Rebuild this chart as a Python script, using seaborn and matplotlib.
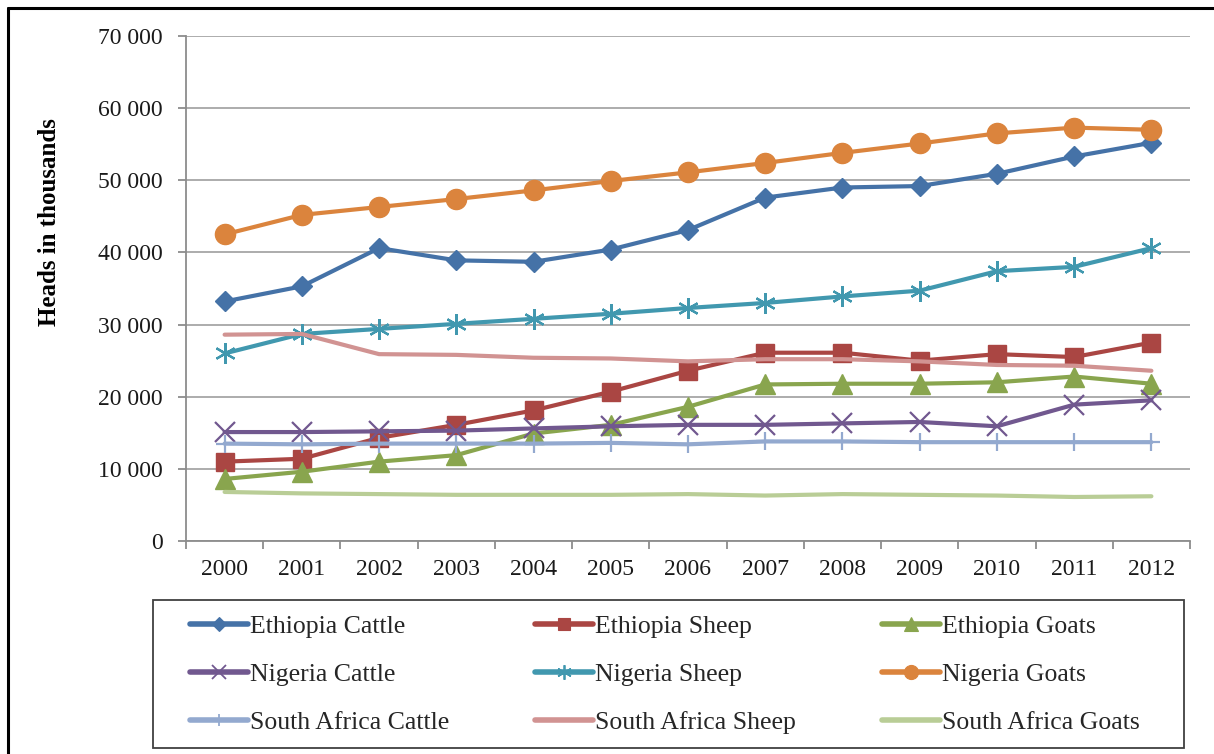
import matplotlib
matplotlib.use("Agg")
import matplotlib.pyplot as plt
import numpy as np
import pandas as pd
import seaborn as sns
from matplotlib.lines import Line2D
from matplotlib.patches import Rectangle
from matplotlib.ticker import FuncFormatter, FixedLocator

years = ["2000", "2001", "2002", "2003", "2004", "2005", "2006",
         "2007", "2008", "2009", "2010", "2011", "2012"]

ethiopia_cattle = [33200, 35300, 40600, 38900, 38700, 40400, 43100,
                   47600, 49000, 49200, 50900, 53300, 55200]
ethiopia_sheep = [11000, 11400, 14300, 16100, 18100, 20700, 23600,
                  26100, 26100, 25000, 25900, 25500, 27500]
ethiopia_goats = [8600, 9600, 11000, 11900, 14900, 16100, 18600,
                  21700, 21800, 21800, 22000, 22800, 21800]
nigeria_cattle = [15100, 15100, 15200, 15300, 15600, 15900, 16100,
                  16100, 16300, 16500, 15900, 18900, 19500]
nigeria_sheep = [26000, 28700, 29400, 30100, 30800, 31500, 32300,
                 33000, 33900, 34700, 37400, 38000, 40600]
nigeria_goats = [42500, 45200, 46300, 47400, 48600, 49900, 51100,
                 52400, 53800, 55100, 56500, 57300, 57000]
sa_cattle = [13500, 13400, 13500, 13500, 13500, 13600, 13400,
             13800, 13800, 13700, 13700, 13700, 13700]
sa_sheep = [28600, 28700, 25900, 25800, 25400, 25300, 24900,
            25200, 25200, 24900, 24400, 24300, 23600]
sa_goats = [6800, 6600, 6500, 6400, 6400, 6400, 6500,
            6300, 6500, 6400, 6300, 6100, 6200]

series_names = ["Ethiopia Cattle", "Ethiopia Sheep", "Ethiopia Goats",
                "Nigeria Cattle", "Nigeria Sheep", "Nigeria Goats",
                "South Africa Cattle", "South Africa Sheep", "South Africa Goats"]
series_values = [ethiopia_cattle, ethiopia_sheep, ethiopia_goats,
                 nigeria_cattle, nigeria_sheep, nigeria_goats,
                 sa_cattle, sa_sheep, sa_goats]

colors = ["#4572A7", "#AA4643", "#89A54E", "#71588F", "#4198AF",
          "#DB843D", "#93A9CF", "#D19392", "#B9CD96"]
markers = ["D", "s", "^", "x", (6, 2, 0), "o", "+", None, None]
msizes = [10, 13, 14, 14, 15, 14.5, 13, 0, 0]
mews = [1, 1, 1, 1.6, 1.6, 1, 1.6, 1, 1]

sns.set_theme(style="white")
plt.rcParams["font.family"] = ["Liberation Serif", "DejaVu Serif"]

W, H = 1214, 754
fig = plt.figure(figsize=(W / 100, H / 100), dpi=100)
ax = fig.add_axes([186 / W, (H - 541) / H, 1004 / W, 505 / H])

x = np.arange(len(years))
for name, vals, c, m, ms, mew in zip(series_names, series_values, colors,
                                     markers, msizes, mews):
    df = pd.DataFrame({"x": x, "y": vals})
    kw = {}
    if m is not None:
        kw = dict(marker=m, markersize=ms, markeredgewidth=mew,
                  markeredgecolor=c, markerfacecolor=c)
    sns.lineplot(data=df, x="x", y="y", ax=ax, color=c, linewidth=3,
                 label=name, legend=False, **kw)

ax.set_xlim(-0.5, len(years) - 0.5)
ax.set_ylim(0, 70000)
ax.set_yticks(np.arange(0, 70001, 10000))
ax.yaxis.set_major_formatter(FuncFormatter(lambda v, p: f"{v:,.0f}".replace(",", " ")))
ax.set_xticks(x)
ax.set_xticklabels(years)
ax.xaxis.set_minor_locator(FixedLocator(np.arange(-0.5, len(years), 1.0)))

ax.grid(axis="y", color="#A6A6A6", linewidth=1.3)
ax.grid(axis="x", visible=False)
ax.set_axisbelow(True)
for s in ["top", "right"]:
    ax.spines[s].set_visible(False)
for s in ["left", "bottom"]:
    ax.spines[s].set_color("#8C8C8C")
    ax.spines[s].set_linewidth(1.3)

ax.tick_params(axis="y", which="major", length=6, width=1.3, color="#8C8C8C",
               direction="out", left=True, labelsize=17, labelcolor="#1A1A1A", pad=11)
ax.tick_params(axis="x", which="major", length=0, labelsize=17,
               labelcolor="#1A1A1A", pad=13)
ax.tick_params(axis="x", which="minor", length=6, width=1.3, color="#8C8C8C",
               direction="out", bottom=True)
ax.set_xlabel("")
ax.set_ylabel("")

fig.text(50 / W, 1 - 222 / H, "Heads in thousands", rotation=90,
         ha="center", va="center", fontsize=18, fontweight="bold", color="black")

# legend: three columns, each row follows the series order
handles = []
for name, c, m, ms, mew in zip(series_names, colors, markers, msizes, mews):
    kw = {}
    if m is not None:
        kw = dict(marker=m, markersize=ms * 0.7, markeredgewidth=mew * 0.8,
                  markeredgecolor=c, markerfacecolor=c)
    handles.append(Line2D([], [], color=c, linewidth=4, label=name, **kw))

col_x = [190, 535, 882]
for ci, cx in enumerate(col_x):
    col_handles = [handles[ci], handles[ci + 3], handles[ci + 6]]
    fig.legend(handles=col_handles, labels=[h.get_label() for h in col_handles],
               ncol=1, loc="upper left",
               bbox_to_anchor=(cx / W, 1 - 615 / H),
               bbox_transform=fig.transFigure, frameon=False, fontsize=18.5,
               handlelength=2.25, handletextpad=0.1, labelspacing=0.98,
               borderaxespad=0, borderpad=0)

fig.add_artist(Rectangle((153 / W, 1 - 748 / H), (1184 - 153) / W, 148 / H,
                         transform=fig.transFigure, fill=False,
                         edgecolor="#404040", linewidth=1.3))
# outer border (top and left)
fig.add_artist(Line2D([8 / W, 1.0], [1 - 8 / H, 1 - 8 / H], transform=fig.transFigure,
                      color="black", linewidth=2.2))
fig.add_artist(Line2D([8 / W, 8 / W], [0, 1 - 8 / H], transform=fig.transFigure,
                      color="black", linewidth=2.2))

fig.savefig("out.png", dpi=100)
